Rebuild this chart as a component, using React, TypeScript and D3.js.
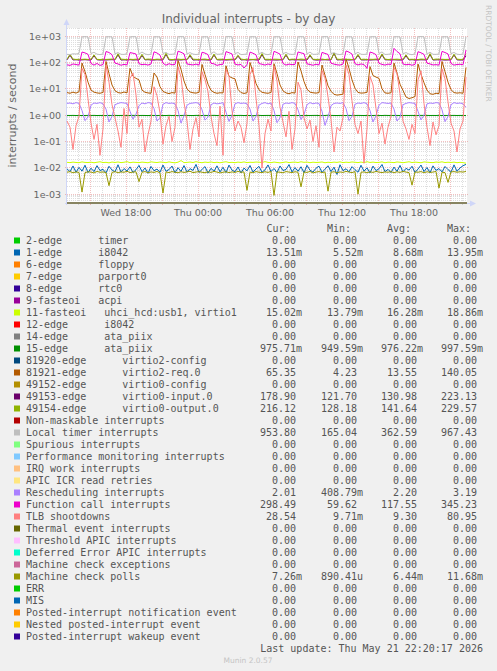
import React from "react";
import * as d3 from "d3";

// ---------- time axis ----------
const START = Date.UTC(2026, 4, 20, 13, 5); // Wed 13:05
const END = START + 400 * 300 * 1000; // 33h20m later
const STEP_MS = 15 * 60 * 1000;

// ---------- series (one value every 15 minutes) ----------
const edge1 = [
  0.0092, 0.0071, 0.0118, 0.0068, 0.0104, 0.0075, 0.0126, 0.0066,
  0.0097, 0.0072, 0.0121, 0.0079, 0.0088, 0.0064, 0.0115, 0.0083,
  0.0070, 0.0131, 0.0069, 0.0094, 0.0076, 0.0109, 0.0067, 0.0085,
  0.0124, 0.0071, 0.0099, 0.0062, 0.0113, 0.0078, 0.0090, 0.0068,
  0.0128, 0.0074, 0.0086, 0.0117, 0.0065, 0.0101, 0.0073, 0.0122,
  0.0069, 0.0093, 0.0080, 0.0135, 0.0067, 0.0087, 0.0112, 0.0063,
  0.0096, 0.0074, 0.0119, 0.0070, 0.0105, 0.0066, 0.0127, 0.0082,
  0.0071, 0.0108, 0.0064, 0.0098, 0.0077, 0.0123, 0.0069, 0.0091,
  0.0114, 0.0068, 0.0084, 0.0129, 0.0072, 0.0095, 0.0066, 0.0118,
  0.0079, 0.0087, 0.0133, 0.0070, 0.0102, 0.0074, 0.0110, 0.0065,
  0.0125, 0.0081, 0.0069, 0.0097, 0.0116, 0.0067, 0.0089, 0.0120,
  0.0072, 0.0106, 0.0056, 0.0131, 0.0078, 0.0093, 0.0070, 0.0111,
  0.0085, 0.0068, 0.0126, 0.0075, 0.0100, 0.0064, 0.0117, 0.0079,
  0.0092, 0.0134, 0.0071, 0.0088, 0.0066, 0.0107, 0.0073, 0.0124,
  0.0069, 0.0096, 0.0082, 0.0115, 0.0067, 0.0090, 0.0128, 0.0072,
  0.0103, 0.0065, 0.0119, 0.0080, 0.0094, 0.0070, 0.0113, 0.0086,
  0.0068, 0.0130, 0.0074, 0.0099, 0.0121, 0.0135,
];

const fasteoi11 = [
  0.0162, 0.0158, 0.0165, 0.0160, 0.0157, 0.0168, 0.0161, 0.0159,
  0.0164, 0.0156, 0.0163, 0.0170, 0.0159, 0.0162, 0.0155, 0.0166,
  0.0160, 0.0167, 0.0158, 0.0163, 0.0172, 0.0157, 0.0164, 0.0161,
  0.0158, 0.0165, 0.0161, 0.0156, 0.0169, 0.0163, 0.0159, 0.0166,
  0.0163, 0.0157, 0.0168, 0.0160, 0.0155, 0.0164, 0.0189, 0.0158,
  0.0161, 0.0166, 0.0159, 0.0171, 0.0162, 0.0157, 0.0165, 0.0160,
  0.0167, 0.0158, 0.0163, 0.0156, 0.0164, 0.0170, 0.0159, 0.0162,
  0.0157, 0.0165, 0.0160, 0.0168, 0.0158, 0.0163, 0.0161, 0.0166,
  0.0164, 0.0159, 0.0172, 0.0161, 0.0157, 0.0166, 0.0160, 0.0155,
  0.0160, 0.0168, 0.0158, 0.0163, 0.0165, 0.0159, 0.0170, 0.0162,
  0.0166, 0.0157, 0.0164, 0.0160, 0.0162, 0.0167, 0.0156, 0.0163,
  0.0159, 0.0165, 0.0161, 0.0169, 0.0158, 0.0164, 0.0160, 0.0167,
  0.0163, 0.0158, 0.0166, 0.0157, 0.0171, 0.0160, 0.0165, 0.0159,
  0.0161, 0.0168, 0.0156, 0.0164, 0.0162, 0.0158, 0.0167, 0.0163,
  0.0157, 0.0163, 0.0170, 0.0159, 0.0165, 0.0161, 0.0156, 0.0168,
  0.0164, 0.0160, 0.0158, 0.0166, 0.0162, 0.0169, 0.0159, 0.0163,
  0.0160, 0.0165, 0.0157, 0.0162, 0.0158, 0.0150,
];

const edge15 = [
  0.978, 0.975, 0.981, 0.972, 0.977, 0.969, 0.974, 0.980,
  0.976, 0.983, 0.971, 0.978, 0.974, 0.966, 0.979, 0.975,
  0.982, 0.973, 0.977, 0.980, 0.970, 0.975, 0.984, 0.976,
  0.972, 0.979, 0.975, 0.968, 0.981, 0.977, 0.973, 0.980,
  0.975, 0.971, 0.986, 0.974, 0.978, 0.962, 0.976, 0.982,
  0.979, 0.974, 0.970, 0.983, 0.976, 0.972, 0.980, 0.973,
  0.977, 0.985, 0.973, 0.979, 0.971, 0.968, 0.975, 0.981,
  0.974, 0.978, 0.982, 0.970, 0.977, 0.975, 0.950, 0.979,
  0.983, 0.972, 0.976, 0.980, 0.974, 0.971, 0.978, 0.975,
  0.970, 0.981, 0.977, 0.973, 0.986, 0.969, 0.976, 0.980,
  0.976, 0.973, 0.979, 0.982, 0.972, 0.977, 0.974, 0.997,
  0.981, 0.975, 0.971, 0.978, 0.976, 0.973, 0.983, 0.970,
  0.974, 0.980, 0.976, 0.972, 0.979, 0.967, 0.975, 0.982,
  0.978, 0.971, 0.984, 0.976, 0.973, 0.980, 0.977, 0.974,
  0.972, 0.979, 0.975, 0.981, 0.970, 0.976, 0.983, 0.978,
  0.980, 0.974, 0.977, 0.973, 0.985, 0.971, 0.978, 0.975,
  0.977, 0.982, 0.973, 0.979, 0.974, 0.9757,
];

const edge81921 = [
  7.2, 6.8, 7.5, 6.9, 7.8, 95, 45, 18,
  9.0, 7.5, 7.0, 6.8, 7.3, 110, 38, 14,
  8.5, 7.2, 6.9, 7.6, 7.0, 60, 30, 25,
  22, 9.0, 7.4, 7.0, 6.8, 40, 28, 12,
  8.0, 7.1, 6.6, 7.2, 6.9, 120, 55, 20,
  10, 7.6, 7.1, 6.9, 7.4, 85, 35, 15,
  8.8, 7.3, 6.8, 7.1, 7.0, 75, 30, 26,
  24, 9.5, 7.2, 6.7, 7.1, 100, 42, 16,
  9.2, 7.4, 7.0, 6.8, 7.3, 90, 38, 14,
  8.4, 7.0, 6.5, 7.2, 6.9, 105, 48, 19,
  9.8, 7.5, 7.1, 6.9, 7.2, 80, 33, 13,
  8.1, 6.2, 5.8, 6.0, 6.3, 140, 60, 22,
  10.5, 7.3, 6.9, 7.0, 7.4, 70, 32, 28,
  25, 10, 7.0, 6.8, 7.1, 95, 40, 15,
  8.7, 4.9, 4.3, 4.6, 5.1, 88, 36, 17,
  9.0, 6.5, 6.2, 6.8, 6.6, 110, 45, 18,
  9.3, 7.2, 6.9, 7.1, 6.8, 65.35,
];

const edge49153 = [
  126, 188, 125, 127, 124, 126, 128, 125,
  125, 180, 127, 124, 126, 125, 127, 128,
  127, 195, 124, 126, 125, 128, 124, 126,
  124, 185, 126, 128, 125, 124, 127, 125,
  126, 205, 125, 124, 127, 126, 125, 128,
  128, 178, 124, 126, 125, 127, 126, 124,
  125, 192, 127, 125, 128, 124, 126, 127,
  126, 175, 125, 127, 124, 126, 128, 125,
  124, 200, 126, 125, 127, 125, 124, 126,
  127, 190, 124, 128, 126, 127, 125, 124,
  125, 182, 128, 124, 125, 126, 127, 125,
  126, 223, 125, 127, 124, 128, 124, 126,
  128, 186, 126, 125, 127, 124, 126, 127,
  124, 196, 127, 126, 125, 127, 125, 124,
  126, 179, 125, 128, 124, 125, 127, 126,
  125, 202, 124, 126, 127, 126, 124, 125,
  127, 193, 126, 124, 125, 178.9,
];

const edge49154 = [
  134, 205, 135, 131, 133, 132, 134, 131,
  133, 195, 132, 130, 134, 131, 133, 135,
  131, 215, 134, 132, 130, 133, 131, 134,
  132, 205, 131, 135, 133, 130, 134, 132,
  134, 225, 133, 130, 132, 135, 131, 133,
  130, 200, 134, 132, 131, 133, 135, 130,
  133, 210, 131, 134, 133, 130, 132, 134,
  131, 190, 135, 130, 134, 132, 131, 133,
  135, 220, 132, 133, 130, 134, 133, 131,
  132, 208, 130, 134, 133, 131, 135, 132,
  134, 198, 133, 131, 132, 135, 130, 134,
  130, 229, 134, 132, 135, 131, 133, 130,
  133, 203, 131, 134, 130, 133, 132, 135,
  131, 212, 135, 130, 133, 132, 134, 131,
  134, 196, 132, 133, 131, 130, 135, 133,
  132, 218, 130, 135, 134, 133, 131, 132,
  133, 207, 134, 131, 132, 216.12,
];

const localTimer = [
  205, 200, 215, 210, 222, 945, 958, 940,
  220, 245, 208, 200, 212, 950, 952, 944,
  215, 238, 205, 203, 218, 940, 960, 951,
  210, 250, 212, 198, 208, 952, 948, 938,
  220, 242, 204, 206, 214, 955, 962, 947,
  212, 238, 209, 201, 210, 944, 950, 942,
  217, 255, 205, 208, 216, 958, 966, 949,
  219, 240, 200, 204, 211, 950, 955, 940,
  212, 246, 207, 199, 215, 947, 953, 945,
  216, 241, 210, 203, 209, 952, 958, 941,
  211, 249, 204, 206, 213, 949, 961, 950,
  218, 237, 208, 200, 217, 956, 950, 939,
  213, 244, 206, 203, 210, 943, 957, 946,
  220, 252, 202, 205, 214, 951, 954, 943,
  215, 239, 209, 198, 216, 954, 967, 948,
  210, 247, 205, 204, 211, 948, 952, 944,
  217, 242, 207, 201, 212, 953.8,
];

const rescheduling = [
  2.8, 2.9, 2.7, 3.0, 2.8, 1.5, 0.62, 0.85,
  2.4, 2.9, 2.8, 3.0, 2.7, 1.7, 0.55, 0.9,
  2.5, 2.8, 3.0, 2.9, 2.8, 1.4, 0.7, 1.1,
  2.3, 2.9, 2.7, 3.0, 2.9, 1.8, 0.6, 0.8,
  2.6, 3.0, 2.8, 2.9, 2.7, 1.5, 0.5, 0.95,
  2.4, 2.8, 2.9, 3.0, 2.8, 1.6, 0.65, 0.85,
  2.5, 2.9, 2.7, 2.8, 3.0, 1.3, 0.58, 1.0,
  2.7, 3.0, 2.8, 2.9, 2.7, 1.7, 0.6, 0.9,
  2.4, 2.8, 3.0, 2.7, 2.9, 1.5, 0.52, 0.8,
  2.6, 2.9, 2.8, 3.0, 2.8, 1.6, 0.68, 1.05,
  2.5, 3.0, 2.7, 2.9, 2.8, 1.4, 0.41, 0.85,
  2.3, 2.8, 2.9, 2.8, 3.0, 1.8, 0.62, 0.9,
  2.6, 2.9, 2.8, 3.0, 2.7, 1.5, 0.55, 0.95,
  2.4, 3.0, 2.9, 2.8, 2.9, 1.7, 0.6, 0.82,
  2.5, 2.8, 3.0, 2.9, 2.8, 1.4, 0.66, 1.0,
  2.7, 2.9, 2.8, 3.0, 2.9, 1.6, 0.57, 0.88,
  2.5, 3.0, 2.8, 2.9, 2.7, 2.01,
];

const functionCall = [
  82, 78, 88, 84, 80, 250, 232, 205,
  92, 80, 92, 78, 84, 262, 240, 198,
  95, 88, 79, 85, 81, 238, 226, 210,
  90, 83, 86, 80, 88, 255, 230, 192,
  94, 79, 90, 82, 85, 270, 245, 215,
  88, 84, 81, 87, 80, 245, 228, 200,
  93, 89, 78, 84, 86, 260, 236, 212,
  87, 81, 85, 62, 83, 248, 225, 196,
  91, 86, 80, 88, 82, 266, 238, 208,
  92, 80, 87, 83, 85, 252, 232, 218,
  89, 84, 79, 86, 81, 242, 222, 202,
  94, 87, 82, 80, 88, 275, 248, 210,
  90, 81, 88, 84, 60, 250, 230, 199,
  93, 85, 80, 87, 84, 345, 262, 216,
  88, 82, 86, 79, 85, 258, 234, 204,
  95, 88, 81, 83, 80, 264, 240, 212,
  92, 80, 84, 86, 82, 298.49,
];

const tlbShootdowns = [
  0.6, 0.35, 0.05, 0.4, 0.9, 60, 35, 4.2,
  0.5, 0.12, 0.45, 0.03, 0.3, 80, 18, 2.5,
  0.8, 0.25, 0.06, 1.8, 0.2, 25, 40, 6.0,
  0.35, 0.7, 0.04, 0.18, 0.6, 12, 5.5, 1.2,
  0.08, 0.4, 0.9, 0.1, 0.35, 70, 28, 3.0,
  0.6, 0.05, 0.3, 0.8, 0.15, 45, 22, 8.0,
  0.9, 0.2, 0.07, 2.2, 0.03, 55, 30, 1.5,
  0.25, 0.6, 0.35, 0.09, 0.5, 35, 65, 4.5,
  0.4, 0.0097, 0.2, 0.7, 0.25, 75, 20, 2.0,
  0.55, 0.15, 1.4, 0.05, 0.3, 18, 9.0, 0.8,
  0.3, 0.65, 0.1, 0.4, 0.06, 50, 26, 5.0,
  0.7, 0.04, 0.35, 0.25, 0.8, 80, 35, 3.5,
  0.45, 0.2, 0.6, 0.015, 0.3, 30, 14, 1.8,
  0.2, 0.5, 0.08, 0.35, 0.9, 65, 38, 6.5,
  0.6, 0.3, 0.12, 0.45, 0.2, 22, 48, 2.8,
  0.35, 0.07, 0.55, 0.18, 0.4, 58, 24, 3.2,
  0.5, 0.25, 0.04, 0.3, 0.6, 28.54,
];

const machineCheckPolls = [
  0.0068, 0.0072, 0.0065, 0.0070, 0.0067, 0.0012, 0.0066, 0.0071,
  0.0069, 0.0064, 0.0073, 0.0068, 0.0070, 0.0066, 0.0021, 0.0067,
  0.0072, 0.0065, 0.0070, 0.0068, 0.0074, 0.0066, 0.0069, 0.0071,
  0.0030, 0.0068, 0.0072, 0.0065, 0.0070, 0.0067, 0.0073, 0.0064,
  0.0011, 0.0070, 0.0066, 0.0072, 0.0068, 0.0065, 0.0071, 0.0067,
  0.0070, 0.0074, 0.0066, 0.0069, 0.0072, 0.0068, 0.0065, 0.0071,
  0.0067, 0.0073, 0.0069, 0.0064, 0.0068, 0.0071, 0.0066, 0.0070,
  0.0067, 0.0073, 0.0068, 0.0070, 0.0014, 0.0069, 0.0065, 0.0072,
  0.0068, 0.0066, 0.0071, 0.0067, 0.0073, 0.0009, 0.0070, 0.0068,
  0.0065, 0.0072, 0.0069, 0.0066, 0.0071, 0.0068, 0.0019, 0.0070,
  0.0067, 0.0073, 0.0064, 0.0069, 0.0072, 0.0066, 0.0070, 0.0013,
  0.0068, 0.0071, 0.0065, 0.0070, 0.0067, 0.0073, 0.0069, 0.0066,
  0.0072, 0.0010, 0.0068, 0.0070, 0.0065, 0.0071, 0.0067, 0.0073,
  0.0069, 0.0066, 0.0070, 0.0068, 0.0072, 0.0065, 0.0071, 0.0067,
  0.0073, 0.0069, 0.0066, 0.0022, 0.0070, 0.0068, 0.0072, 0.0065,
  0.0071, 0.0067, 0.0069, 0.0073, 0.0017, 0.0068, 0.0066, 0.0028,
  0.0070, 0.0072, 0.0068, 0.0071, 0.0069, 0.0073,
];

// series whose every value is 0 (plotted at the start and end of the period)
const zeroValues = [0, 0];

// ---------- legend ----------
const legendLabels = [
  "2-edge      timer",
  "1-edge      i8042",
  "6-edge      floppy",
  "7-edge      parport0",
  "8-edge      rtc0",
  "9-fasteoi   acpi",
  "11-fasteoi   uhci_hcd:usb1, virtio1",
  "12-edge      i8042",
  "14-edge      ata_piix",
  "15-edge      ata_piix",
  "81920-edge      virtio2-config",
  "81921-edge      virtio2-req.0",
  "49152-edge      virtio0-config",
  "49153-edge      virtio0-input.0",
  "49154-edge      virtio0-output.0",
  "Non-maskable interrupts",
  "Local timer interrupts",
  "Spurious interrupts",
  "Performance monitoring interrupts",
  "IRQ work interrupts",
  "APIC ICR read retries",
  "Rescheduling interrupts",
  "Function call interrupts",
  "TLB shootdowns",
  "Thermal event interrupts",
  "Threshold APIC interrupts",
  "Deferred Error APIC interrupts",
  "Machine check exceptions",
  "Machine check polls",
  "ERR",
  "MIS",
  "Posted-interrupt notification event",
  "Nested posted-interrupt event",
  "Posted-interrupt wakeup event",
];

const legendColors = [
  "#00CC00", "#0066B3", "#FF8000", "#FFCC00", "#330099", "#990099", "#CCFF00",
  "#FF0000", "#808080", "#008F00", "#00487D", "#B35A00", "#B38F00", "#6B006B",
  "#8FB300", "#B30000", "#BEBEBE", "#80FF80", "#80C9FF", "#FFC080", "#FFE680",
  "#AA80FF", "#EE00CC", "#FF8080", "#666600", "#FFBFFF", "#00FFCC", "#CC6699",
  "#999900", "#00CC00", "#0066B3", "#FF8000", "#FFCC00", "#330099",
];

const curVals = [
  "0.00", "13.51m", "0.00", "0.00", "0.00", "0.00", "15.02m", "0.00", "0.00",
  "975.71m", "0.00", "65.35", "0.00", "178.90", "216.12", "0.00", "953.80",
  "0.00", "0.00", "0.00", "0.00", "2.01", "298.49", "28.54", "0.00", "0.00",
  "0.00", "0.00", "7.26m", "0.00", "0.00", "0.00", "0.00", "0.00",
];
const minVals = [
  "0.00", "5.52m", "0.00", "0.00", "0.00", "0.00", "13.79m", "0.00", "0.00",
  "949.59m", "0.00", "4.23", "0.00", "121.70", "128.18", "0.00", "165.04",
  "0.00", "0.00", "0.00", "0.00", "408.79m", "59.62", "9.71m", "0.00", "0.00",
  "0.00", "0.00", "890.41u", "0.00", "0.00", "0.00", "0.00", "0.00",
];
const avgVals = [
  "0.00", "8.68m", "0.00", "0.00", "0.00", "0.00", "16.28m", "0.00", "0.00",
  "976.22m", "0.00", "13.55", "0.00", "130.98", "141.64", "0.00", "362.59",
  "0.00", "0.00", "0.00", "0.00", "2.20", "117.55", "9.30", "0.00", "0.00",
  "0.00", "0.00", "6.44m", "0.00", "0.00", "0.00", "0.00", "0.00",
];
const maxVals = [
  "0.00", "13.95m", "0.00", "0.00", "0.00", "0.00", "18.86m", "0.00", "0.00",
  "997.59m", "0.00", "140.05", "0.00", "223.13", "229.57", "0.00", "967.43",
  "0.00", "0.00", "0.00", "0.00", "3.19", "345.23", "80.95", "0.00", "0.00",
  "0.00", "0.00", "11.68m", "0.00", "0.00", "0.00", "0.00", "0.00",
];

const columnHeaders = ["Cur:", "Min:", "Avg:", "Max:"];
const titleText = "Individual interrupts - by day";
const yAxisLabel = "interrupts / second";
const lastUpdate = "Last update: Thu May 21 22:20:17 2026";
const muninVersion = "Munin 2.0.57";
const watermark = "RRDTOOL / TOBI OETIKER";

const seriesByLegendIndex: Record<number, number[]> = {
  1: edge1,
  6: fasteoi11,
  9: edge15,
  11: edge81921,
  13: edge49153,
  14: edge49154,
  16: localTimer,
  21: rescheduling,
  22: functionCall,
  23: tlbShootdowns,
  28: machineCheckPolls,
};

// ---------- layout ----------
const W = 497;
const H = 671;
const PX0 = 67;
const PX1 = 467;
const PY0 = 28;
const PY1 = 203;
const FONT = "'DejaVu Sans', 'Liberation Sans', sans-serif";
const MONO = "'DejaVu Sans Mono', 'Liberation Mono', monospace";
const TXT = "#666666";
const LEG = "#555555";

function fmtExp(v: number) {
  const e = Math.round(Math.log10(v));
  return `1e${e < 0 ? "-" : "+"}${String(Math.abs(e)).padStart(2, "0")}`;
}

function padVal(s: string) {
  const last = s[s.length - 1];
  const hasSuffix = last === "m" || last === "u";
  const num = hasSuffix ? s.slice(0, -1) : s;
  return num.padStart(6, " ") + (hasSuffix ? last : " ");
}

export default function App() {
  const x = d3
    .scaleUtc()
    .domain([new Date(START), new Date(END)])
    .range([PX0, PX1]);
  const y = d3
    .scaleLog()
    .domain([Math.pow(10, -3.335), Math.pow(10, 3.311)])
    .range([PY1, PY0])
    .clamp(true);

  const crisp = (v: number) => Math.floor(v) + 0.5;

  // horizontal grid
  const hGrid: { v: number; major: boolean }[] = [];
  for (let e = -4; e <= 3; e++) {
    for (let m = 1; m <= 9; m++) {
      const v = m * Math.pow(10, e);
      const [d0, d1] = y.domain();
      if (v >= d0 && v <= d1) hGrid.push({ v, major: m === 1 });
    }
  }
  // vertical grid
  const hours = d3.utcHour.range(new Date(START), new Date(END));
  const majorHours = hours.filter((d) => d.getUTCHours() % 3 === 0);
  const minorHours = hours.filter((d) => d.getUTCHours() % 3 !== 0);
  const labelHours = hours.filter((d) => d.getUTCHours() % 6 === 0);
  const fmtTime = d3.utcFormat("%a %H:%M");

  const lineGen = (vals: number[], stepMs: number) =>
    d3
      .line<number>()
      .x((_, i) => x(new Date(START + i * stepMs)))
      .y((d) => y(d))(vals) || "";

  const zeroStep = END - START;

  const legendBase = 243.5;
  const rowH = 12;
  const colX = [260, 321, 381, 441];
  const headX = [266.5, 327, 387, 447];

  return (
    <div style={{ position: "absolute", left: 0, top: 0 }}>
      <svg width={W} height={H} style={{ display: "block" }}>
        <rect x={0} y={0} width={W} height={H} fill="#F0F0F0" />
        <rect x={PX0} y={PY0} width={PX1 - PX0} height={PY1 - PY0} fill="#FFFFFF" />

        {/* minor grid */}
        {hGrid
          .filter((g) => !g.major)
          .map((g, i) => (
            <line
              key={"hm" + i}
              x1={PX0}
              x2={PX1}
              y1={crisp(y(g.v))}
              y2={crisp(y(g.v))}
              stroke="rgba(143,143,143,0.75)"
              strokeWidth={0.4}
              strokeDasharray="1,1"
            />
          ))}
        {minorHours.map((d, i) => (
          <line
            key={"vm" + i}
            x1={crisp(x(d))}
            x2={crisp(x(d))}
            y1={PY0}
            y2={PY1 + 2}
            stroke="rgba(143,143,143,0.75)"
            strokeWidth={0.4}
            strokeDasharray="1,1"
          />
        ))}
        {/* major grid */}
        {hGrid
          .filter((g) => g.major)
          .map((g, i) => (
            <line
              key={"hM" + i}
              x1={PX0 - 2}
              x2={PX1 + 2}
              y1={crisp(y(g.v))}
              y2={crisp(y(g.v))}
              stroke="rgba(222,79,79,0.6)"
              strokeWidth={0.6}
              strokeDasharray="1,1"
            />
          ))}
        {majorHours.map((d, i) => (
          <line
            key={"vM" + i}
            x1={crisp(x(d))}
            x2={crisp(x(d))}
            y1={PY0}
            y2={PY1 + 2}
            stroke="rgba(222,79,79,0.6)"
            strokeWidth={0.6}
            strokeDasharray="1,1"
          />
        ))}

        {/* axes */}
        <line x1={PX0 - 2} x2={PX1 + 4} y1={PY1 + 0.5} y2={PY1 + 0.5} stroke="#CFD6F8" strokeWidth={1} />
        <polygon
          points={`${PX1 + 3},${PY1 - 2.5} ${PX1 + 3},${PY1 + 3.5} ${PX1 + 9},${PY1 + 0.5}`}
          fill="#CFD6F8"
        />
        <line x1={PX0 - 0.5} x2={PX0 - 0.5} y1={PY1 + 2} y2={PY0 - 4} stroke="#CFD6F8" strokeWidth={1} />
        <polygon
          points={`${PX0 - 3.5},${PY0 - 3} ${PX0 + 2.5},${PY0 - 3} ${PX0 - 0.5},${PY0 - 9}`}
          fill="#CFD6F8"
        />

        {/* series */}
        {legendLabels.map((_, idx) => {
          const vals = seriesByLegendIndex[idx];
          const d = vals ? lineGen(vals, STEP_MS) : lineGen(zeroValues, zeroStep);
          return (
            <path
              key={"s" + idx}
              d={d}
              fill="none"
              stroke={legendColors[idx]}
              strokeOpacity={vals ? 1 : 0.35}
              strokeWidth={1}
              strokeLinejoin="round"
            />
          );
        })}

        {/* y tick labels */}
        {hGrid
          .filter((g) => g.major)
          .map((g, i) => (
            <text
              key={"yl" + i}
              x={61}
              y={y(g.v) + 3.5}
              textAnchor="end"
              fontFamily={FONT}
              fontSize={9.5}
              fill={TXT}
            >
              {fmtExp(g.v)}
            </text>
          ))}
        {/* x tick labels */}
        {labelHours.map((d, i) => (
          <text
            key={"xl" + i}
            x={x(d)}
            y={216}
            textAnchor="middle"
            fontFamily={FONT}
            fontSize={9.5}
            fill={TXT}
          >
            {fmtTime(d)}
          </text>
        ))}

        {/* title & labels */}
        <text x={248.5} y={23} textAnchor="middle" fontFamily={FONT} fontSize={12} fill={TXT}>
          {titleText}
        </text>
        <text
          transform={`translate(16,${(PY0 + PY1) / 2}) rotate(-90)`}
          textAnchor="middle"
          fontFamily={FONT}
          fontSize={11}
          fill={TXT}
        >
          {yAxisLabel}
        </text>
        <text
          transform={`translate(486,5) rotate(90)`}
          textAnchor="start"
          fontFamily={FONT}
          fontSize={7.5}
          fill="#C4C4C4"
        >
          {watermark}
        </text>

        {/* legend header */}
        {columnHeaders.map((h, i) => (
          <text
            key={"h" + i}
            x={headX[i]}
            y={legendBase - rowH}
            fontFamily={MONO}
            fontSize={10}
            fill={LEG}
          >
            {h}
          </text>
        ))}

        {/* legend rows */}
        {legendLabels.map((lab, i) => {
          const by = legendBase + i * rowH;
          const cols = [curVals[i], minVals[i], avgVals[i], maxVals[i]];
          return (
            <g key={"lg" + i}>
              <rect x={14} y={by - 6} width={6} height={6} fill={legendColors[i]} />
              <text
                x={26}
                y={by}
                fontFamily={MONO}
                fontSize={10}
                fill={LEG}
                xmlSpace="preserve"
                style={{ whiteSpace: "pre" }}
              >
                {lab}
              </text>
              {cols.map((c, j) => (
                <text
                  key={j}
                  x={colX[j]}
                  y={by}
                  fontFamily={MONO}
                  fontSize={10}
                  fill={LEG}
                  xmlSpace="preserve"
                  style={{ whiteSpace: "pre" }}
                >
                  {padVal(c)}
                </text>
              ))}
            </g>
          );
        })}

        <text
          x={483}
          y={legendBase + legendLabels.length * rowH}
          textAnchor="end"
          fontFamily={MONO}
          fontSize={10}
          fill={LEG}
          xmlSpace="preserve"
          style={{ whiteSpace: "pre" }}
        >
          {lastUpdate}
        </text>
        <text x={248} y={663} textAnchor="middle" fontFamily={FONT} fontSize={7.5} fill="#C4C4C4">
          {muninVersion}
        </text>
      </svg>
    </div>
  );
}
